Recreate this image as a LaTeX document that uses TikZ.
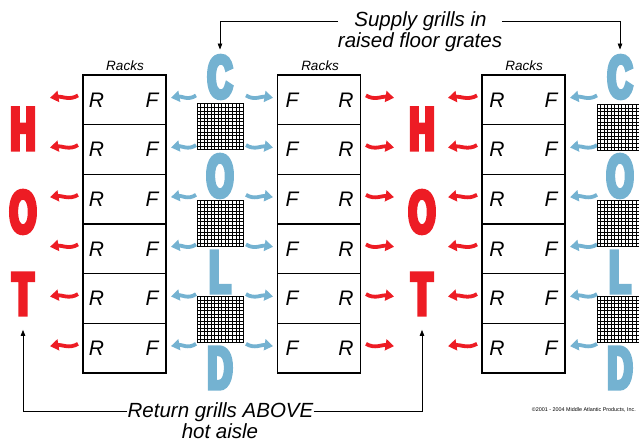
\documentclass[tikz,border=0pt]{standalone}
\usepackage{fontspec}
\setmainfont{Liberation Sans}
\newfontfamily\heavyfont{Liberation Sans}[FakeStretch=0.57,FakeBold=7]
\usetikzlibrary{arrows.meta}
\definecolor{hotred}{RGB}{237,28,36}
\definecolor{coldblue}{RGB}{116,178,209}
\newcommand\flow[4]{%
  \draw[flowline,#1] (#2,{#4-2.4}) .. controls ({#2+0.3*(#3-#2)},{#4+3}) and ({#2+0.6*(#3-#2)},{#4-1.8}) .. (#3,#4);}
\begin{document}
\begin{tikzpicture}[x=1pt,y=-1pt,
  cell/.style={draw=black,line width=1.1pt,minimum width=83pt,minimum height=49.667pt,inner sep=0pt},
  rf/.style={font=\fontsize{21}{21}\selectfont\itshape,inner sep=0pt},
  rackslbl/.style={font=\fontsize{13.5}{13.5}\selectfont\itshape,inner sep=0pt,anchor=base},
  biglet/.style={font=\heavyfont\bfseries\fontsize{60}{60}\selectfont,inner sep=0pt},
  coldlet/.style={biglet,text=coldblue},
  hotlet/.style={biglet,text=hotred},
  flowline/.style={line width=3.8pt,-{Triangle[length=8.5pt,width=11pt]}},
  note/.style={font=\fontsize{20.5}{21}\selectfont\itshape,inner sep=0pt,anchor=base},
  conn/.style={draw=black,line width=0.8pt,-{Triangle[length=6pt,width=4.5pt]}},
  grill/.style={draw=black,line width=1pt,minimum size=46pt,inner sep=0pt,
    path picture={
      \foreach \k in {1,...,12}{
        \draw[line width=0.85pt] ([xshift=\k*46pt/13]path picture bounding box.south west) -- ([xshift=\k*46pt/13]path picture bounding box.north west);
        \draw[line width=0.85pt] ([yshift=\k*46pt/13]path picture bounding box.south west) -- ([yshift=\k*46pt/13]path picture bounding box.south east);
      }}}
]
\useasboundingbox (0,0) rectangle (639,443);
\clip (0,0) rectangle (639,443);
% racks
\foreach \i in {1,...,6}{
  \pgfmathsetmacro\yc{75+49.667*(\i-0.5)}
  \pgfmathsetmacro\ya{\yc-2}
  \node[cell] (A\i) at (124.5,\yc) {};
  \node[rf] (AR\i) at (96.5,\yc) {R};
  \node[rf] (AF\i) at (152,\yc) {F};
  \node[cell] (B\i) at (319,\yc) {};
  \node[rf] (BF\i) at (292,\yc) {F};
  \node[rf] (BR\i) at (346,\yc) {R};
  \node[cell] (C\i) at (523.5,\yc) {};
  \node[rf] (CR\i) at (497,\yc) {R};
  \node[rf] (CF\i) at (551,\yc) {F};
  \flow{hotred}{78}{50}{\ya}
  \flow{coldblue}{196}{171}{\ya}
  \flow{coldblue}{246}{273}{\ya}
  \flow{hotred}{366}{394}{\ya}
  \flow{hotred}{477}{448}{\ya}
  \flow{coldblue}{597}{570}{\ya}
}
\node[rackslbl] (rk1) at (125,71) {Racks};
\node[rackslbl] (rk2) at (320,71) {Racks};
\node[rackslbl] (rk3) at (524,71) {Racks};
% grills
\node[grill] (g1) at (220,127) {};
\node[grill] (g2) at (220,223.5) {};
\node[grill] (g3) at (220,319.5) {};
\node[grill] (g4) at (620,127.5) {};
\node[grill] (g5) at (620,223.5) {};
\node[grill] (g6) at (620,319.5) {};
% COLD letters
\node[coldlet] (c1) at (220,77) {C};
\node[coldlet] (o1) at (220,176) {O};
\node[coldlet] (l1) at (220,272) {L};
\node[coldlet] (d1) at (220,368) {D};
\node[coldlet] (c2) at (620,77) {C};
\node[coldlet] (o2) at (620,176) {O};
\node[coldlet] (l2) at (620,272) {L};
\node[coldlet] (d2) at (620,368) {D};
% HOT letters
\node[hotlet] (h1) at (23,129) {H};
\node[hotlet] (ho1) at (23,212) {O};
\node[hotlet] (t1) at (23,294) {T};
\node[hotlet] (h2) at (422,129) {H};
\node[hotlet] (ho2) at (422,212) {O};
\node[hotlet] (t2) at (422,294) {T};
% notes
\node[note] (sup1) at (420.5,27) {Supply grills in};
\node[note] (sup2) at (420,48) {raised floor grates};
\draw[conn] ([xshift=-16pt]sup1.west) -| ([yshift=6pt]c1.north);
\draw[conn] ([xshift=15pt]sup1.east) -| ([yshift=6pt]c2.north);
\node[note] (ret1) at (220.5,417) {Return grills ABOVE};
\node[note] (ret2) at (220,438) {hot aisle};
\draw[conn] (ret1.west) -| ([yshift=-15pt]t1.south);
\draw[conn] (ret1.east) -| ([yshift=-15pt]t2.south);
\node[font=\fontsize{5.4}{5.4}\selectfont,inner sep=0pt,anchor=east] (copy) at (636,410) {\textcopyright2001 - 2004 Middle Atlantic Products, Inc.};
\end{tikzpicture}
\end{document}
